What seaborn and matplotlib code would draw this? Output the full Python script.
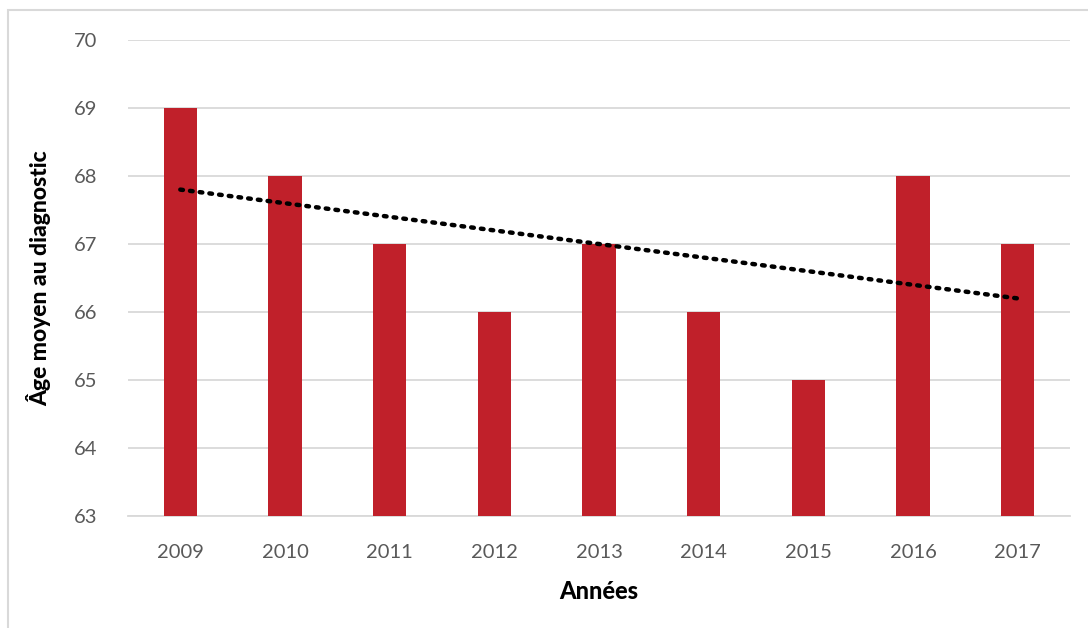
import numpy as np
import pandas as pd
import matplotlib
matplotlib.use("Agg")
import matplotlib.pyplot as plt
import seaborn as sns
from matplotlib.patches import Rectangle

years = ["2009", "2010", "2011", "2012", "2013", "2014", "2015", "2016", "2017"]
ages = [69, 68, 67, 66, 67, 66, 65, 68, 67]
yticks = [63, 64, 65, 66, 67, 68, 69, 70]

sns.set_theme(style="white")
plt.rcParams['font.family'] = ['Lato', 'DejaVu Sans']

df = pd.DataFrame({"Année": years, "Age": ages})

fig = plt.figure(figsize=(10.88, 6.28), dpi=100)
ax = fig.add_axes([0.1176, 0.1783, 0.9835 - 0.1176, 0.9363 - 0.1783])

sns.barplot(data=df, x="Année", y="Age", color="#C0202A", saturation=1,
            width=0.32, ax=ax, zorder=3, linewidth=0)

# trend line (linear regression)
xs = np.arange(len(ages))
slope, intercept = np.polyfit(xs, ages, 1)
ax.plot(xs, slope * xs + intercept, color="black", linestyle=(0, (0.6, 1.6)),
        linewidth=3.2, dash_capstyle="round", zorder=4)

ax.set_ylim(63, 70)
ax.set_xlim(-0.5, len(years) - 0.5)
ax.set_yticks(yticks)
ax.yaxis.grid(True, color="#D9D9D9", linewidth=1.3, zorder=0)
ax.set_axisbelow(True)
for s in ["top", "right", "left"]:
    ax.spines[s].set_visible(False)
ax.spines["bottom"].set_color("#D9D9D9")
ax.spines["bottom"].set_linewidth(1.3)
ax.tick_params(axis="both", length=0, labelsize=14.5, labelcolor="#595959")
ax.tick_params(axis="y", pad=22)
ax.tick_params(axis="x", pad=20)

ax.set_xlabel("Années", fontsize=17, fontweight="black", color="black", labelpad=14)
ax.set_ylabel("Âge moyen au diagnostic", fontsize=16.5, fontweight="black",
              color="black", labelpad=16)

# figure border
fig.patches.append(Rectangle((8 / 1088, -0.05), 1.1, 1 - 10 / 628 + 0.05,
                             transform=fig.transFigure, fill=False,
                             edgecolor="#D9D9D9", linewidth=1.5))

fig.savefig("out.png", dpi=100)
